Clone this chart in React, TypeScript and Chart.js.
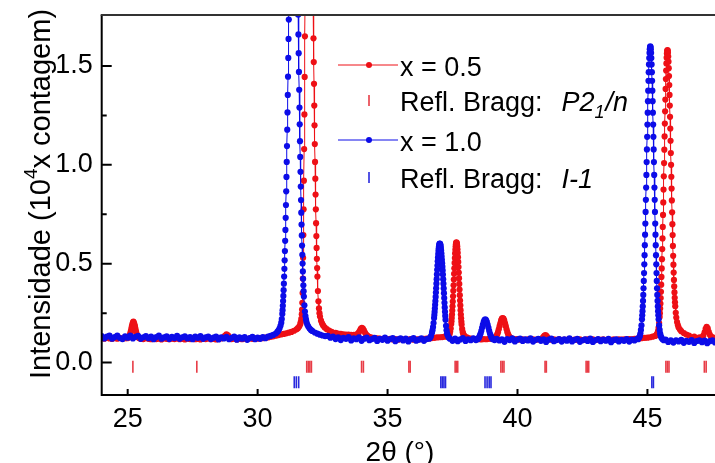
import React, { useEffect, useRef } from 'react';
import { Chart, registerables } from 'chart.js';

Chart.register(...registerables);

const FONT = '"Liberation Sans", Arial, Helvetica, sans-serif';

// ---- axes ----
const xMin = 24.0;
const xMax = 47.6;
const yMin = -0.164;
const yMax = 1.758;
const xTickValues = [25, 30, 35, 40, 45];
const yTickValues = [0, 0.5, 1.0, 1.5];
const yMinorTickValues = [0.25, 0.75, 1.25];

// ---- texts ----
const xTitle = '2θ (°)';
const yTitleMain = 'Intensidade (10';
const yTitleSup = '4';
const yTitleEnd = 'x contagem)';
const legend05 = 'x = 0.5';
const legend10 = 'x = 1.0';
const braggLabel = 'Refl. Bragg:';
const group05 = ['P2', '1', '/n'];
const group10 = 'I-1';

// ---- x = 1.0 (blue) scan, [2θ, intensity / 10^4] ----
const blueBgLow = [
  [24.0, .134], [24.1, .122], [24.2, .131], [24.3, .137], [24.4, .121], [24.5, .129], [24.6, .136], [24.7, .124], [24.8, .119], [24.9, .133],
  [25.0, .126], [25.1, .137], [25.2, .122], [25.3, .130], [25.4, .135], [25.5, .120], [25.6, .128], [25.7, .134], [25.8, .123], [25.9, .131],
  [26.0, .118], [26.1, .129], [26.2, .136], [26.3, .121], [26.4, .127], [26.5, .133], [26.6, .119], [26.7, .130], [26.8, .124], [26.9, .135],
  [27.0, .120], [27.1, .128], [27.2, .133], [27.3, .122], [27.4, .129], [27.5, .118], [27.6, .131], [27.7, .125], [27.8, .134], [27.9, .120],
  [28.0, .127], [28.1, .132], [28.2, .119], [28.3, .126], [28.4, .131], [28.5, .117], [28.6, .128], [28.7, .122], [28.8, .130], [28.9, .118],
  [29.0, .125], [29.1, .131], [29.2, .116], [29.3, .127], [29.4, .121], [29.5, .129], [29.6, .115], [29.7, .124], [29.8, .130], [29.9, .118],
  [30.0, .126], [30.1, .120], [30.2, .129], [30.3, .123], [30.4, .131], [30.5, .135], [30.6, .140], [30.7, .147],
];
const bluePeak31 = [
  [30.76, .155], [30.80, .162], [30.84, .172], [30.88, .186], [30.91, .202], [30.93, .220], [30.95, .246], [30.96, .265], [30.97, .287],
  [30.98, .311], [30.99, .337], [31.00, .366], [31.01, .399], [31.02, .435], [31.03, .474], [31.04, .517], [31.05, .564], [31.06, .616],
  [31.07, .671], [31.08, .732], [31.09, .797], [31.10, .866], [31.11, .939], [31.12, 1.015], [31.13, 1.095], [31.14, 1.178], [31.15, 1.265],
  [31.16, 1.354], [31.17, 1.446], [31.18, 1.541], [31.19, 1.637], [31.20, 1.735], [31.21, 1.833], [31.22, 1.932], [31.25, 2.22], [31.30, 2.62],
  [31.38, 2.93], [31.46, 2.62], [31.51, 2.25], [31.54, 1.96], [31.55, 1.86], [31.56, 1.76], [31.57, 1.66], [31.58, 1.565], [31.59, 1.47],
  [31.60, 1.38], [31.61, 1.29], [31.62, 1.205], [31.63, 1.12], [31.64, 1.04], [31.65, .965], [31.66, .89], [31.67, .822], [31.68, .758],
  [31.69, .698], [31.70, .643], [31.71, .592], [31.72, .545], [31.73, .501], [31.74, .461], [31.75, .424], [31.76, .391], [31.77, .361],
  [31.78, .334], [31.80, .290], [31.82, .258], [31.84, .235], [31.86, .218], [31.88, .205], [31.91, .192], [31.95, .182], [32.00, .172],
  [32.05, .165], [32.10, .160], [32.20, .152], [32.30, .146], [32.40, .141], [32.50, .137], [32.60, .134],
];
const blueBgMid = [
  [32.7, .135], [32.8, .126], [32.9, .131], [33.0, .119], [33.1, .128], [33.2, .114], [33.3, .125], [33.4, .120], [33.5, .129], [33.6, .112],
  [33.7, .123], [33.8, .118], [33.9, .127], [34.0, .110], [34.1, .121], [34.2, .126], [34.3, .113], [34.4, .119], [34.5, .125], [34.6, .109],
  [34.7, .120], [34.8, .115], [34.9, .126], [35.0, .111], [35.1, .119], [35.2, .124], [35.3, .108], [35.4, .117], [35.5, .123], [35.6, .112],
  [35.7, .121], [35.8, .107], [35.9, .118], [36.0, .124], [36.1, .111], [36.2, .116], [36.3, .122], [36.4, .110], [36.5, .119], [36.6, .121],
];
const bluePeak37 = [
  [36.64, .126], [36.67, .134], [36.71, .151], [36.73, .164], [36.75, .180], [36.77, .200], [36.79, .225], [36.80, .240], [36.81, .256],
  [36.82, .273], [36.83, .292], [36.84, .311], [36.85, .332], [36.86, .354], [36.87, .376], [36.88, .399], [36.89, .422], [36.90, .446],
  [36.91, .469], [36.92, .491], [36.93, .512], [36.94, .531], [36.95, .549], [36.96, .565], [36.97, .578], [36.98, .588], [36.99, .596],
  [37.00, .600], [37.01, .602], [37.02, .601], [37.03, .597], [37.04, .590], [37.05, .580], [37.06, .567], [37.07, .553], [37.08, .537],
  [37.09, .520], [37.10, .503], [37.11, .485], [37.12, .466], [37.13, .445], [37.14, .422], [37.15, .399], [37.16, .375], [37.17, .351],
  [37.18, .326], [37.19, .302], [37.20, .279], [37.21, .257], [37.22, .236], [37.23, .216], [37.25, .186], [37.27, .163], [37.29, .148],
  [37.31, .138], [37.35, .127], [37.40, .121],
];
const blueBgMid2 = [
  [37.5, .110], [37.6, .121], [37.7, .108], [37.8, .117], [37.9, .124], [38.0, .109], [38.1, .118], [38.2, .113], [38.3, .122],
];
const bluePeak39 = [
  [38.40, .114], [38.46, .118], [38.49, .121], [38.52, .127], [38.55, .136], [38.58, .147], [38.61, .161], [38.64, .177], [38.67, .192],
  [38.70, .206], [38.73, .215], [38.76, .218], [38.79, .215], [38.82, .206], [38.85, .192], [38.88, .177], [38.91, .161], [38.94, .147],
  [38.97, .136], [39.00, .127], [39.03, .121], [39.06, .118], [39.12, .114],
];
const blueBgHigh = [
  [39.2, .120], [39.3, .112], [39.4, .117], [39.5, .105], [39.6, .119], [39.7, .114], [39.8, .122], [39.9, .107], [40.0, .116],
  [40.1, .121], [40.2, .109], [40.3, .117], [40.4, .112], [40.5, .123], [40.6, .106], [40.7, .115], [40.8, .120], [40.9, .110], [41.0, .118],
  [41.1, .104], [41.2, .116], [41.3, .121], [41.4, .108], [41.5, .114], [41.6, .119], [41.7, .106], [41.8, .117], [41.9, .111], [42.0, .122],
  [42.1, .107], [42.2, .115], [42.3, .120], [42.4, .105], [42.5, .113], [42.6, .118], [42.7, .109], [42.8, .121], [42.9, .104], [43.0, .114],
  [43.1, .119], [43.2, .108], [43.3, .116], [43.4, .111], [43.5, .120], [43.6, .103], [43.7, .114], [43.8, .118], [43.9, .107], [44.0, .115],
  [44.1, .110], [44.2, .119], [44.3, .106], [44.4, .116], [44.5, .112], [44.6, .120],
];
const bluePeak45 = [
  [44.64, .118], [44.68, .126], [44.71, .135], [44.73, .147], [44.75, .165], [44.77, .188], [44.79, .219], [44.80, .239], [44.81, .260],
  [44.82, .284], [44.83, .312], [44.84, .342], [44.85, .376], [44.86, .413], [44.87, .453], [44.88, .497], [44.89, .543], [44.90, .594],
  [44.91, .647], [44.92, .703], [44.93, .762], [44.94, .823], [44.95, .885], [44.96, .949], [44.97, 1.014], [44.98, 1.078], [44.99, 1.142],
  [45.00, 1.204], [45.01, 1.264], [45.02, 1.322], [45.03, 1.375], [45.04, 1.425], [45.05, 1.469], [45.06, 1.508], [45.07, 1.540],
  [45.08, 1.566], [45.09, 1.585], [45.10, 1.596], [45.11, 1.600], [45.12, 1.596], [45.13, 1.585], [45.14, 1.566], [45.15, 1.540],
  [45.16, 1.508], [45.17, 1.469], [45.18, 1.425], [45.19, 1.375], [45.20, 1.322], [45.21, 1.264], [45.22, 1.204], [45.23, 1.142],
  [45.24, 1.078], [45.25, 1.014], [45.26, .949], [45.27, .885], [45.28, .823], [45.29, .762], [45.30, .703], [45.31, .647], [45.32, .594],
  [45.33, .543], [45.34, .497], [45.35, .453], [45.36, .413], [45.37, .376], [45.38, .342], [45.39, .312], [45.40, .284], [45.41, .260],
  [45.42, .239], [45.43, .219], [45.45, .188], [45.47, .165], [45.49, .147], [45.51, .135], [45.54, .126], [45.58, .118], [45.63, .113],
];
const blueBgEnd = [
  [45.7, .116], [45.8, .104], [45.9, .112], [46.0, .101], [46.1, .113], [46.2, .107], [46.3, .115], [46.4, .100], [46.5, .110], [46.6, .105],
  [46.7, .114], [46.8, .099], [46.9, .109], [47.0, .112], [47.1, .103], [47.2, .111], [47.3, .098], [47.4, .108], [47.5, .113], [47.6, .102],
];

// ---- x = 0.5 (red) scan ----
const redBgLow = [
  [24.0, .124], [24.1, .121], [24.2, .126], [24.3, .122], [24.4, .120], [24.5, .124], [24.6, .121], [24.7, .125], [24.8, .120], [24.9, .123],
];
const redPeak25 = [
  [24.98, .123], [25.02, .126], [25.06, .133], [25.08, .139], [25.10, .147], [25.12, .158], [25.14, .170], [25.16, .183], [25.18, .193],
  [25.20, .202], [25.22, .207], [25.24, .201], [25.26, .193], [25.28, .183], [25.30, .171], [25.32, .158], [25.34, .147], [25.36, .138],
  [25.38, .131], [25.42, .126], [25.46, .123],
];
const redBgMid1 = [
  [25.5, .121], [25.6, .119], [25.7, .123], [25.8, .120], [25.9, .118], [26.0, .122], [26.1, .119], [26.2, .121], [26.3, .117], [26.4, .122],
  [26.5, .120], [26.6, .118], [26.7, .121], [26.8, .119], [26.9, .122], [27.0, .118], [27.1, .120], [27.2, .117], [27.3, .121], [27.4, .119],
  [27.5, .122], [27.6, .118], [27.7, .120], [27.8, .117], [27.9, .121], [28.0, .119], [28.1, .122], [28.2, .118], [28.3, .120], [28.4, .117],
  [28.5, .121], [28.6, .122],
];
const redPeak29 = [[28.68, .127], [28.74, .135], [28.80, .143], [28.86, .138], [28.92, .127]];
const redBgMid2 = [
  [29.0, .119], [29.1, .121], [29.2, .117], [29.3, .120], [29.4, .118], [29.5, .121], [29.6, .119], [29.7, .122], [29.8, .120], [29.9, .123],
  [30.0, .121], [30.1, .124], [30.2, .123], [30.3, .126], [30.4, .127], [30.5, .130], [30.6, .133], [30.7, .136], [30.8, .139], [30.9, .142],
  [31.0, .145], [31.1, .148], [31.2, .151], [31.3, .155], [31.4, .161], [31.5, .168], [31.55, .174],
];
const redPeak32 = [
  [31.60, .182], [31.64, .194], [31.66, .205], [31.68, .221], [31.70, .245], [31.71, .268], [31.72, .302], [31.73, .352], [31.74, .425],
  [31.75, .530], [31.76, .645], [31.77, .775], [31.78, .920], [31.79, 1.080], [31.80, 1.255], [31.81, 1.445], [31.82, 1.650], [31.83, 1.870],
  [31.85, 2.35], [31.90, 3.4], [31.98, 4.1], [32.06, 3.2], [32.10, 2.45], [32.12, 2.08], [32.13, 1.92], [32.14, 1.77], [32.15, 1.64],
  [32.16, 1.52], [32.17, 1.41], [32.18, 1.30], [32.19, 1.20], [32.20, 1.105], [32.21, 1.015], [32.22, .930], [32.23, .850], [32.24, .775],
  [32.25, .705], [32.26, .640], [32.27, .580], [32.28, .525], [32.29, .478], [32.30, .435], [32.32, .362], [32.34, .310], [32.36, .274],
  [32.38, .250], [32.40, .233], [32.44, .212], [32.48, .198], [32.52, .188], [32.58, .178], [32.66, .169], [32.75, .162], [32.85, .156],
  [33.0, .150], [33.1, .147], [33.2, .145], [33.3, .143], [33.4, .142], [33.5, .141], [33.6, .140], [33.7, .140],
];
const redPeak34 = [
  [33.80, .141], [33.85, .145], [33.89, .151], [33.93, .161], [33.97, .171], [34.01, .176], [34.05, .172], [34.09, .163], [34.13, .152],
  [34.17, .143], [34.22, .136],
];
const redBgMid3 = [
  [34.3, .130], [34.4, .126], [34.5, .124], [34.6, .122], [34.7, .121], [34.8, .119], [34.9, .121], [35.0, .118], [35.1, .120], [35.2, .117],
  [35.3, .119], [35.4, .116], [35.5, .118], [35.6, .116], [35.7, .118], [35.8, .116], [35.9, .119], [36.0, .116], [36.1, .118], [36.2, .117],
  [36.3, .119], [36.4, .120], [36.5, .121], [36.6, .122], [36.7, .124], [36.8, .125], [36.9, .127], [37.0, .128], [37.1, .129], [37.2, .131],
  [37.3, .133],
];
const redPeak37 = [
  [37.35, .135], [37.37, .140], [37.39, .146], [37.41, .157], [37.43, .172], [37.45, .195], [37.46, .209], [37.47, .225], [37.48, .243],
  [37.49, .263], [37.50, .285], [37.51, .309], [37.52, .335], [37.53, .363], [37.54, .391], [37.55, .420], [37.56, .449], [37.57, .477],
  [37.58, .504], [37.59, .529], [37.60, .552], [37.61, .571], [37.62, .587], [37.63, .598], [37.64, .606], [37.65, .608], [37.66, .606],
  [37.67, .599], [37.68, .588], [37.69, .573], [37.70, .555], [37.71, .533], [37.72, .509], [37.73, .483], [37.74, .455], [37.75, .427],
  [37.76, .398], [37.77, .369], [37.78, .341], [37.79, .314], [37.80, .289], [37.81, .265], [37.82, .243], [37.83, .224], [37.84, .207],
  [37.85, .192], [37.87, .170], [37.89, .155], [37.91, .146], [37.94, .138], [37.98, .132],
];
const redBgMid4 = [
  [38.05, .127], [38.1, .124], [38.2, .121], [38.3, .120], [38.4, .118], [38.5, .119], [38.6, .117], [38.7, .119], [38.8, .118], [38.9, .120],
  [39.0, .120],
];
const redPeak39 = [
  [39.07, .121], [39.13, .125], [39.16, .128], [39.19, .134], [39.22, .143], [39.25, .154], [39.28, .168], [39.31, .184], [39.34, .199],
  [39.37, .213], [39.40, .222], [39.43, .225], [39.46, .222], [39.49, .213], [39.52, .199], [39.55, .184], [39.58, .168], [39.61, .154],
  [39.64, .143], [39.67, .134], [39.70, .128], [39.73, .125], [39.79, .121],
];
const redBgMid5 = [
  [39.85, .119], [39.9, .117], [40.0, .119], [40.1, .116], [40.2, .118], [40.3, .115], [40.4, .117], [40.5, .116], [40.6, .118], [40.7, .115],
  [40.8, .117], [40.9, .119],
];
const redPeak41 = [[40.95, .123], [41.00, .130], [41.04, .137], [41.08, .139], [41.12, .134], [41.16, .126], [41.22, .119]];
const redBgMid6 = [
  [41.3, .116], [41.4, .118], [41.5, .115], [41.6, .117], [41.7, .114], [41.8, .116], [41.9, .115], [42.0, .117], [42.1, .114], [42.2, .116],
  [42.3, .115], [42.4, .117], [42.5, .114], [42.6, .116], [42.7, .118], [42.8, .115], [42.9, .117], [43.0, .114], [43.1, .116], [43.2, .115],
  [43.3, .117], [43.4, .114], [43.5, .116], [43.6, .115], [43.7, .117], [43.8, .115], [43.9, .117], [44.0, .116], [44.1, .118], [44.2, .117],
  [44.3, .119], [44.4, .118], [44.5, .120], [44.6, .121], [44.7, .122], [44.8, .124], [44.9, .125], [45.0, .126], [45.1, .128], [45.2, .131],
  [45.3, .135],
];
const redPeak46 = [
  [45.35, .140], [45.37, .143], [45.39, .150], [45.41, .161], [45.43, .177], [45.45, .200], [45.47, .231], [45.48, .250], [45.49, .273],
  [45.50, .298], [45.51, .326], [45.52, .358], [45.53, .394], [45.54, .433], [45.55, .476], [45.56, .523], [45.57, .574], [45.58, .628],
  [45.59, .686], [45.60, .747], [45.61, .810], [45.62, .875], [45.63, .942], [45.64, 1.009], [45.65, 1.077], [45.66, 1.144], [45.67, 1.209],
  [45.68, 1.271], [45.69, 1.330], [45.70, 1.384], [45.71, 1.434], [45.72, 1.477], [45.73, 1.513], [45.74, 1.542], [45.75, 1.563],
  [45.76, 1.576], [45.77, 1.580], [45.78, 1.578], [45.79, 1.567], [45.80, 1.548], [45.81, 1.522], [45.82, 1.489], [45.83, 1.449],
  [45.84, 1.404], [45.85, 1.354], [45.86, 1.300], [45.87, 1.243], [45.88, 1.184], [45.89, 1.122], [45.90, 1.060], [45.91, 1.000],
  [45.92, .940], [45.93, .880], [45.94, .820], [45.95, .760], [45.96, .700], [45.97, .645], [45.98, .590], [45.99, .540], [46.00, .495],
  [46.01, .455], [46.02, .418], [46.03, .385], [46.04, .355], [46.05, .328], [46.06, .305], [46.07, .285], [46.09, .252], [46.11, .228],
  [46.14, .205], [46.17, .190], [46.20, .178], [46.25, .167], [46.30, .159], [46.40, .149], [46.50, .142], [46.60, .137], [46.80, .131],
  [47.00, .128],
];
const redPeak47 = [
  [47.10, .128], [47.15, .136], [47.20, .153], [47.24, .171], [47.28, .181], [47.32, .173], [47.36, .156], [47.40, .141], [47.45, .131],
  [47.50, .127], [47.60, .125],
];

// ---- Bragg reflection positions (2θ) ----
const redBraggAngles = [
  25.20, 27.66, 31.89, 31.95, 32.01, 32.07, 34.00, 34.07, 35.82, 35.87, 37.60, 37.65, 37.70, 39.36, 39.42, 39.48,
  41.06, 41.11, 42.64, 42.69, 42.74, 45.71, 45.77, 45.83, 47.19, 47.26,
];
const blueBraggAngles = [31.41, 31.49, 31.58, 37.05, 37.11, 37.17, 37.23, 38.75, 38.83, 38.91, 38.98, 45.17, 45.23];
const redBraggLevel = -0.021;
const blueBraggLevel = -0.099;

const RED = 'rgb(238,16,22)';
const BLUE = 'rgb(12,12,232)';
const RED_TICK = 'rgb(232,60,70)';
const BLUE_TICK = 'rgb(40,40,222)';

const toPoints = (segs: number[][][]) => segs.flat().map(([x, y]) => ({ x, y }));

const frame = {
  id: 'frame',
  afterDraw(chart: any) {
    const { ctx, chartArea: a, scales } = chart;
    const xs = scales.x;
    const ys = scales.y;
    ctx.save();
    ctx.strokeStyle = '#000';
    ctx.lineWidth = 2;
    ctx.beginPath();
    ctx.moveTo(a.left, a.top);
    ctx.lineTo(a.left, a.bottom);
    ctx.lineTo(a.right, a.bottom);
    ctx.stroke();
    ctx.strokeStyle = '#333';
    ctx.beginPath();
    ctx.moveTo(a.left - 1, a.top);
    ctx.lineTo(a.right, a.top);
    ctx.stroke();
    ctx.strokeStyle = '#000';
    ctx.lineWidth = 2;
    ctx.beginPath();
    for (const v of yTickValues) {
      const p = ys.getPixelForValue(v);
      ctx.moveTo(a.left, p);
      ctx.lineTo(a.left + 10, p);
    }
    for (const v of yMinorTickValues) {
      const p = ys.getPixelForValue(v);
      ctx.moveTo(a.left, p);
      ctx.lineTo(a.left + 5, p);
    }
    for (const v of xTickValues) {
      const p = xs.getPixelForValue(v);
      ctx.moveTo(p, a.bottom);
      ctx.lineTo(p, a.bottom - 6);
    }
    ctx.stroke();

    ctx.fillStyle = '#000';
    ctx.font = `28px ${FONT}`;
    ctx.textAlign = 'center';
    ctx.textBaseline = 'alphabetic';
    ctx.fillText(xTitle, 400, 461);

    ctx.save();
    ctx.translate(50, 194);
    ctx.rotate(-Math.PI / 2);
    ctx.textAlign = 'left';
    ctx.font = `29px ${FONT}`;
    const w1 = ctx.measureText(yTitleMain).width;
    const w3 = ctx.measureText(yTitleEnd).width;
    ctx.font = `19px ${FONT}`;
    const w2 = ctx.measureText(yTitleSup).width;
    let sx = -(w1 + w2 + w3) / 2;
    ctx.font = `29px ${FONT}`;
    ctx.fillText(yTitleMain, sx, 0);
    sx += w1;
    ctx.font = `19px ${FONT}`;
    ctx.fillText(yTitleSup, sx, -13);
    sx += w2;
    ctx.font = `29px ${FONT}`;
    ctx.fillText(yTitleEnd, sx, 0);
    ctx.restore();

    const lineRow = (y: number, color: string) => {
      ctx.strokeStyle = color;
      ctx.lineWidth = 1;
      ctx.beginPath();
      ctx.moveTo(338, y);
      ctx.lineTo(398, y);
      ctx.stroke();
      ctx.fillStyle = color;
      ctx.beginPath();
      ctx.arc(369, y, 3, 0, Math.PI * 2);
      ctx.fill();
    };
    const tickRow = (y0: number, y1: number, color: string) => {
      ctx.strokeStyle = color;
      ctx.lineWidth = 1.6;
      ctx.beginPath();
      ctx.moveTo(369, y0);
      ctx.lineTo(369, y1);
      ctx.stroke();
    };
    ctx.textAlign = 'left';
    lineRow(65, RED);
    ctx.fillStyle = '#000';
    ctx.font = `27px ${FONT}`;
    ctx.fillText(legend05, 400, 75.5);

    tickRow(95, 106, RED_TICK);
    ctx.fillStyle = '#000';
    ctx.font = `27px ${FONT}`;
    ctx.fillText(braggLabel, 400, 111);
    const bw = ctx.measureText(braggLabel).width;
    let gx = 400 + bw + 19;
    ctx.font = `italic 27px ${FONT}`;
    ctx.fillText(group05[0], gx, 111);
    gx += ctx.measureText(group05[0]).width;
    ctx.font = `italic 18px ${FONT}`;
    ctx.fillText(group05[1], gx, 118);
    gx += ctx.measureText(group05[1]).width + 1;
    ctx.font = `italic 27px ${FONT}`;
    ctx.fillText(group05[2], gx, 111);

    lineRow(140, BLUE);
    ctx.fillStyle = '#000';
    ctx.font = `27px ${FONT}`;
    ctx.fillText(legend10, 400, 150.5);

    tickRow(172, 183, BLUE_TICK);
    ctx.fillStyle = '#000';
    ctx.font = `27px ${FONT}`;
    ctx.fillText(braggLabel, 400, 188);
    ctx.font = `italic 27px ${FONT}`;
    ctx.fillText(group10, 400 + bw + 19, 188);

    ctx.restore();
  },
};

export default function App() {
  const ref = useRef<HTMLCanvasElement | null>(null);
  useEffect(() => {
    if (!ref.current) return;
    const blue = toPoints([blueBgLow, bluePeak31, blueBgMid, bluePeak37, blueBgMid2, bluePeak39, blueBgHigh, bluePeak45, blueBgEnd]);
    const red = toPoints([redBgLow, redPeak25, redBgMid1, redPeak29, redBgMid2, redPeak32, redPeak34, redBgMid3, redPeak37, redBgMid4,
      redPeak39, redBgMid5, redPeak41, redBgMid6, redPeak46, redPeak47]);
    const redBragg = redBraggAngles.map((x) => ({ x, y: redBraggLevel }));
    const blueBragg = blueBraggAngles.map((x) => ({ x, y: blueBraggLevel }));
    const chart = new Chart(ref.current, {
      type: 'scatter',
      data: {
        datasets: [
          {
            label: legend10, data: blue, showLine: true, borderColor: BLUE, backgroundColor: BLUE, borderWidth: 1,
            pointRadius: 3.1, pointBorderWidth: 0, pointBackgroundColor: BLUE, order: 1, clip: 0,
          } as any,
          {
            label: legend05, data: red, showLine: true, borderColor: RED, backgroundColor: RED, borderWidth: 1,
            pointRadius: 3.1, pointBorderWidth: 0, pointBackgroundColor: RED, order: 2, clip: 0,
          } as any,
          {
            label: 'Bragg x = 0.5', data: redBragg, showLine: false, pointStyle: 'line', pointRotation: 90, pointRadius: 6,
            pointBorderWidth: 1.6, pointBorderColor: RED_TICK, order: 3,
          } as any,
          {
            label: 'Bragg x = 1.0', data: blueBragg, showLine: false, pointStyle: 'line', pointRotation: 90, pointRadius: 6,
            pointBorderWidth: 1.6, pointBorderColor: BLUE_TICK, order: 3,
          } as any,
        ],
      },
      options: {
        animation: false,
        responsive: false,
        events: [],
        layout: { autoPadding: false, padding: { top: 15, right: 0, bottom: 0, left: 0 } },
        plugins: { legend: { display: false }, tooltip: { enabled: false } },
        scales: {
          x: {
            type: 'linear', min: xMin, max: xMax,
            grid: { display: false, drawTicks: false }, border: { display: false },
            afterBuildTicks: (s: any) => { s.ticks = xTickValues.map((v) => ({ value: v })); },
            afterFit: (s: any) => { s.height = 68; s.paddingLeft = 0; s.paddingRight = 0; },
            ticks: {
              color: '#000', font: { family: FONT, size: 27 }, padding: 8, maxRotation: 0, autoSkip: false,
              callback: (v: any) => String(v),
            },
          },
          y: {
            type: 'linear', min: yMin, max: yMax,
            grid: { display: false, drawTicks: false }, border: { display: false },
            afterBuildTicks: (s: any) => { s.ticks = yTickValues.map((v) => ({ value: v })); },
            afterFit: (s: any) => { s.width = 101.7; s.paddingTop = 0; s.paddingBottom = 0; },
            ticks: {
              color: '#000', font: { family: FONT, size: 27 }, padding: 9,
              callback: (v: any) => Number(v).toFixed(1),
            },
          },
        },
      } as any,
      plugins: [frame],
    });
    return () => chart.destroy();
  }, []);
  return (
    <div style={{ position: 'absolute', left: 0, top: 0, width: 715, height: 463, background: '#fff' }}>
      <canvas ref={ref} width={715} height={463} style={{ display: 'block' }} />
    </div>
  );
}
